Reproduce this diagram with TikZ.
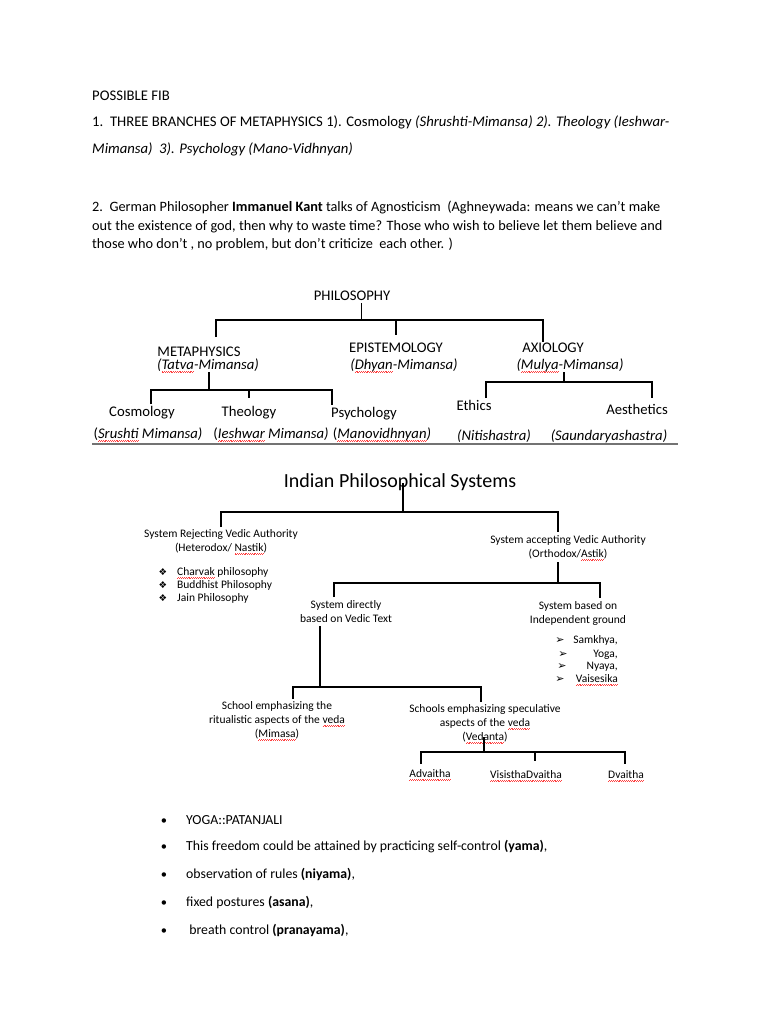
\documentclass[tikz,border=0pt]{standalone}
\usepackage{fontspec}
\setmainfont{Carlito}
\newfontfamily\symfont{DejaVu Sans}
\usetikzlibrary{positioning}
\newsavebox\spellbox
\newcommand\spell[1]{\leavevmode\sbox\spellbox{#1}%
  \rlap{\color{red!75}\hbox to \wd\spellbox{\xleaders\hbox{\rule[-3.1pt]{0.9pt}{0.45pt}\rule[-2.5pt]{0.9pt}{0.45pt}}\hfill}}%
  \usebox\spellbox}

\begin{document}
\begin{tikzpicture}[x=1pt, y=-1pt,
  txt/.style={anchor=base west, inner sep=0pt, font=\fontsize{14.7}{18}\selectfont},
  par/.style={txt, font=\fontsize{14.3}{18}\selectfont},
  note/.style={txt, font=\fontsize{13.8}{18}\selectfont},
  lbl/.style={anchor=base, inner sep=0pt, font=\fontsize{14.7}{18}\selectfont},
  sub/.style={lbl, font=\fontsize{14.7}{18}\selectfont\itshape},
  ttl/.style={anchor=base, inner sep=0pt, font=\fontsize{20}{24}\selectfont},
  sm/.style={anchor=base, inner sep=0pt, align=center, font=\fontsize{11.5}{13.6}\selectfont},
  smw/.style={sm, anchor=base west, align=left},
  sme/.style={sm, anchor=base east, align=right},
  bul/.style={anchor=base, inner sep=0pt, font=\symfont\fontsize{9.5}{10}\selectfont},
  arw/.style={anchor=base, inner sep=0pt, font=\symfont\fontsize{11}{12}\selectfont},
  dot/.style={anchor=base, inner sep=0pt, font=\fontsize{12.5}{18}\selectfont},
  brk/.style={line width=1.4pt},
  brks/.style={line width=1.2pt},
]
\useasboundingbox[fill=white] (0,0) rectangle (768,1024);

% questions
\node[txt] (fib) at (92,101) {POSSIBLE FIB};
\node[txt] (q1a) at (92,127) {1.\ \ THREE BRANCHES OF METAPHYSICS 1). Cosmology \textit{(Shrushti-Mimansa) 2). Theology (Ieshwar-}};
\node[txt] (q1b) at (92,154) {\textit{Mimansa)\ \ 3). Psychology (Mano-Vidhnyan)}};
\node[par] (q2a) at (92,212) {2.\ \ German Philosopher \textbf{Immanuel Kant} talks of Agnosticism\ \ (Aghneywada: means we can't make};
\node[par] (q2b) at (92,230) {out the existence of god, then why to waste time? Those who wish to believe let them believe and};
\node[par] (q2c) at (92,248) {those who don’t , no problem, but don’t criticize\ \ each other. )};

% philosophy tree
\node[lbl] (philo) at (352,300) {PHILOSOPHY};
\node[lbl] (meta) at (199,356) {METAPHYSICS};
\node[sub] (metam) at (208,369) {(\spell{Tatva}-Mimansa)};
\node[lbl] (epi) at (396,352) {EPISTEMOLOGY};
\node[sub] (epim) at (404,369) {(\spell{Dhyan}-Mimansa)};
\node[lbl] (axi) at (553,352) {AXIOLOGY};
\node[sub] (axim) at (570,369) {(\spell{Mulya}-Mimansa)};

\node[lbl] (cosmo) at (142,416) {Cosmology};
\node[lbl] (theo) at (249,416) {Theology};
\node[lbl] (psy) at (364,417) {Psychology};
\node[lbl] (cosmom) at (148,438) {(\textit{\spell{Srushti} Mimansa)}};
\node[lbl] (theom) at (271,438) {(\textit{\spell{Ieshwar} Mimansa)}};
\node[lbl] (psym) at (382,438) {(\textit{\spell{Manovidhnyan})}};
\node[lbl] (eth) at (474,410) {Ethics};
\node[lbl] (aes) at (637,414) {Aesthetics};
\node[sub] (ethm) at (494,440) {(Nitishastra)};
\node[sub] (aesm) at (609,440) {(Saundaryashastra)};

\coordinate (pb) at (361.5,320);
\coordinate (pl) at (216,320);
\coordinate (pr) at (543,320);
\draw[brk] ([yshift=-3pt]philo.south -| pb) -- (pb);
\draw[brk] (pl) ++(0,17) -- (pl) -- (pr) -- ++(0,22);
\draw[brk] (epi |- pb) -- ++(0,15);

\coordinate (mb) at (209,390);
\coordinate (ml) at (151,390);
\coordinate (mr) at (332,390);
\draw[brk] (metam.south -| mb) -- (mb);
\draw[brk] (ml) ++(0,14) -- (ml) -- (mr) -- ++(0,15);
\draw[brk] (theo |- mb) -- ++(0,8);

\coordinate (ab) at (564,382);
\coordinate (al) at (486,382);
\coordinate (ar) at (652,382);
\draw[brk] (axim.south -| ab) -- (ab);
\draw[brk] (al) ++(0,16) -- (al) -- (ar) -- ++(0,16);

\coordinate (rl) at (92,444);
\coordinate (rr) at (678,444);
\draw[line width=1.6pt, black!55] (rl) -- (rr);

% indian systems tree
\node[ttl] (ind) at (400,487) {Indian Philosophical Systems};
\node[sm] (rej) at (221,551) {System Rejecting Vedic Authority\\(Heterodox/ \spell{Nastik})};
\node[sm] (acc) at (568,557) {System accepting Vedic Authority\\(Orthodox/\spell{Astik})};

\node[smw] (charv) at (177,575) {\spell{Charvak} philosophy};
\node[smw] (budd) at (177,588) {Buddhist Philosophy};
\node[smw] (jain) at (177,601) {Jain Philosophy};
\node[bul] (charvb) at (163,575) {❖};
\node[bul] (buddb) at (163,588) {❖};
\node[bul] (jainb) at (163,601) {❖};

\node[sm] (dir) at (346,622) {System directly\\based on Vedic Text};
\node[sm] (indep) at (578,623) {System based on\\Independent ground};

\node[sme] (samk) at (618,643) {Samkhya,};
\node[sme] (yoga) at (618,657) {Yoga,};
\node[sme] (nyaya) at (618,669) {Nyaya,};
\node[sme] (vais) at (618,682) {\spell{Vaisesika}};
\node[arw] (samkb) at (560,643) {➢};
\node[arw] (yogab) at (563,657) {➢};
\node[arw] (nyayab) at (562,669) {➢};
\node[arw] (vaisb) at (560,682) {➢};

\node[sm] (rit) at (277,737) {School emphasizing the\\ritualistic aspects of the \spell{veda}\\(\spell{Mimasa})};
\node[sm] (spec) at (485,740) {Schools emphasizing speculative\\aspects of the \spell{veda}\\(\spell{Vedanta})};

\node[sm] (adv) at (430,777) {\spell{Advaitha}};
\node[sm] (vis) at (526,778) {\spell{VisisthaDvaitha}};
\node[sm] (dva) at (626,778) {\spell{Dvaitha}};

\coordinate (ib) at (403,512);
\coordinate (il) at (221,512);
\coordinate (ir) at (558,512);
\draw[brks] ([yshift=4pt]ind.base -| ib) -- (ib);
\draw[brks] (il) ++(0,15) -- (il) -- (ir) -- ++(0,20);

\coordinate (ob) at (558,583);
\coordinate (ol) at (334,583);
\coordinate (or) at (600,583);
\draw[brks] ([yshift=-2pt]acc.south -| ob) -- (ob);
\draw[brks] (ol) ++(0,14) -- (ol) -- (or) -- ++(0,15);

\coordinate (db) at (320,687);
\coordinate (dl) at (293,687);
\coordinate (dr) at (481,687);
\draw[brks] ([yshift=-4pt]dir.south -| db) -- (db);
\draw[brks] (dl) ++(0,12) -- (dl) -- (dr) -- ++(0,15);

\coordinate (vb) at (484,752);
\coordinate (vl) at (421,752);
\coordinate (vm) at (535,752);
\coordinate (vr) at (625,752);
\draw[brks] ([yshift=6pt]spec.south -| vb) -- (vb);
\draw[brks] (vl) ++(0,12) -- (vl) -- (vr) -- ++(0,12);
\draw[brks] (vm) -- ++(0,9);

% yoga notes
\node[note] (y1) at (186,824) {YOGA::PATANJALI};
\node[note] (y2) at (186,850) {This freedom could be attained by practicing self-control \textbf{(yama)},};
\node[note] (y3) at (186,878) {observation of rules \textbf{(niyama)},};
\node[note] (y4) at (186,906) {fixed postures \textbf{(asana)},};
\node[note] (y5) at (186,934) {\ breath control \textbf{(pranayama)},};
\node[dot] (y1b) at (164,824) {•};
\node[dot] (y2b) at (164,850) {•};
\node[dot] (y3b) at (164,878) {•};
\node[dot] (y4b) at (164,906) {•};
\node[dot] (y5b) at (164,934) {•};
\end{tikzpicture}
\end{document}
